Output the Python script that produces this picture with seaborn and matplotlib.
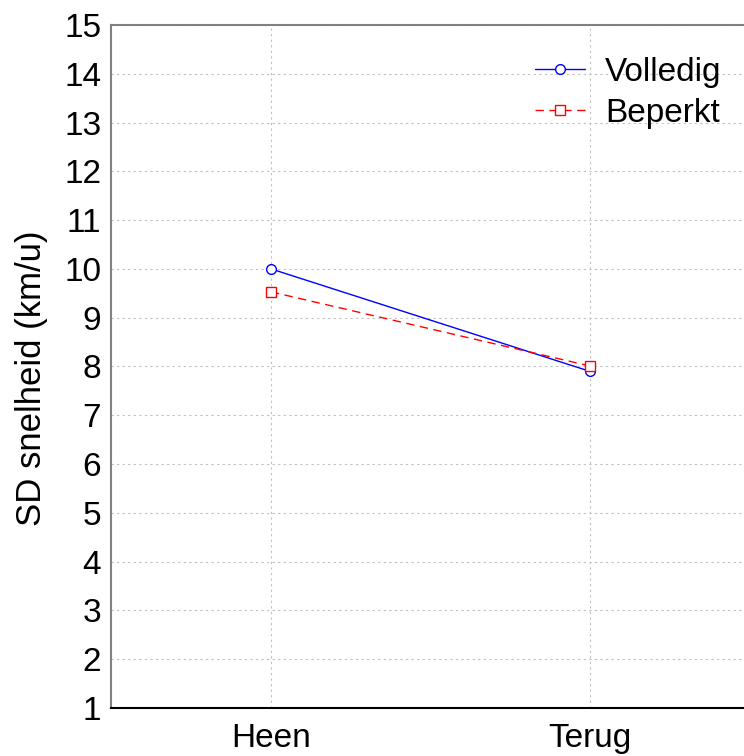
import matplotlib
matplotlib.use("Agg")
import matplotlib.pyplot as plt
import seaborn as sns
import pandas as pd

categories = ["Heen", "Terug"]
volledig = [10.0, 7.9]
beperkt = [9.53, 8.01]
series_names = ["Volledig", "Beperkt"]

rows = []
for name, vals in zip(series_names, [volledig, beperkt]):
    for i, (c, v) in enumerate(zip(categories, vals)):
        rows.append({"pos": i, "cat": c, "val": v, "serie": name})
df = pd.DataFrame(rows)

sns.set_style("white")
plt.rcParams['font.family'] = ['Liberation Sans', 'DejaVu Sans']
plt.rcParams['text.color'] = 'black'
plt.rcParams['axes.labelcolor'] = 'black'
plt.rcParams['xtick.color'] = 'black'
plt.rcParams['ytick.color'] = 'black'

fig = plt.figure(figsize=(7.44, 7.56), dpi=100)
ax = fig.add_axes([0.149, 0.0635, 0.851, 0.9035])

sns.lineplot(data=df, x="pos", y="val", hue="serie", style="serie",
             palette={"Volledig": "#0000ff", "Beperkt": "#ff0000"},
             markers={"Volledig": "o", "Beperkt": "s"},
             dashes={"Volledig": "", "Beperkt": (6, 4)},
             markerfacecolor="white", markeredgewidth=1.0, markersize=7,
             linewidth=1.0, ax=ax)
for ln in ax.lines:
    ln.set_markerfacecolor("white")
    ln.set_markeredgecolor(ln.get_color())

ax.set_xlim(-0.502, 1.483)
ax.set_ylim(1, 15)
ax.set_yticks(range(1, 16))
ax.set_xticks([0, 1])
ax.set_xticklabels(categories)
ax.set_xlabel("")
ax.set_ylabel("SD snelheid (km/u)", fontsize=25)
ax.yaxis.set_label_coords(-0.10, 0.483)
ax.tick_params(axis="both", labelsize=24, direction="in", length=4,
               color="#555555", labelcolor="black")
ax.tick_params(axis="y", pad=7)
ax.tick_params(axis="x", pad=11)
ax.grid(True, linestyle=(0, (2, 3)), color="#c0c0c0", linewidth=0.8)
for s in ["top", "left"]:
    ax.spines[s].set_color("#808080")
    ax.spines[s].set_linewidth(1.5)
ax.spines["bottom"].set_color("black")
ax.spines["bottom"].set_linewidth(1.5)
ax.spines["right"].set_visible(False)

handles, labels = ax.get_legend_handles_labels()
for h in handles:
    h.set_markerfacecolor("white")
ax.legend(handles, labels, loc="upper right", bbox_to_anchor=(1.012, 0.997),
          frameon=False, fontsize=24, handlelength=1.5, handletextpad=0.6,
          labelspacing=0.3)

fig.savefig("out.png", dpi=100)
